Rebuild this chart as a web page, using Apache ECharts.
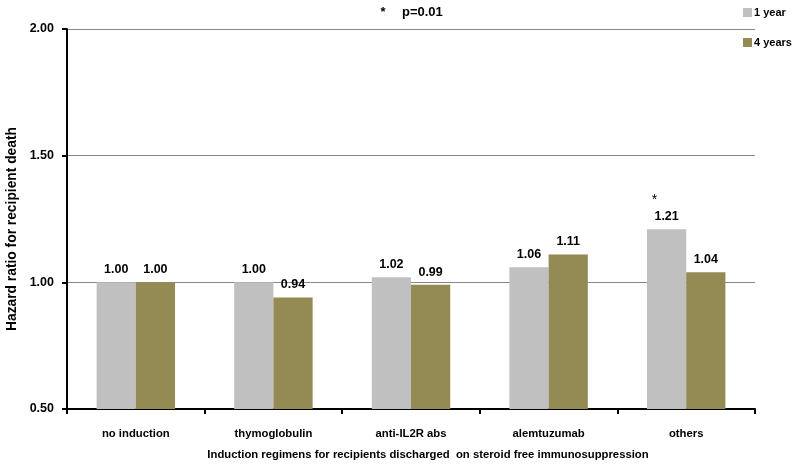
<!DOCTYPE html>
<html>
<head>
<meta charset="utf-8">
<script src="https://cdn.jsdelivr.net/npm/echarts@6/dist/echarts.min.js"></script>
<style>html,body{margin:0;padding:0;background:#fff}#c{width:794px;height:466px}</style>
</head>
<body>
<div id="c"></div>
<script>
const categories = ['no induction', 'thymoglobulin', 'anti-IL2R abs', 'alemtuzumab', 'others'];
const oneYear = [1.00, 1.00, 1.02, 1.06, 1.21];
const fourYears = [1.00, 0.94, 0.99, 1.11, 1.04];
const significance1y = ['', '', '', '', '*'];
const yTicks = [0.5, 1.0, 1.5, 2.0];
const xTitle = 'Induction regimens for recipients discharged  on steroid free immunosuppression';
const yTitle = 'Hazard ratio for recipient death';

const FONT = 'Liberation Sans';
const chart = echarts.init(document.getElementById('c'), null, {renderer: 'canvas'});

function labelCfg(sig) {
  return {
    show: true,
    position: 'top',
    distance: 6,
    fontFamily: FONT,
    fontWeight: 'bold',
    fontSize: 12.5,
    color: '#000',
    formatter: function (p) {
      const s = sig ? sig[p.dataIndex] : '';
      const v = p.value.toFixed(2);
      return s ? '{star|' + s + '}\n' + v : v;
    },
    rich: { star: { fontSize: 14, fontWeight: 'normal', fontFamily: FONT, color: '#000', lineHeight: 20, padding: [0, 24, 0, 0] } }
  };
}

chart.setOption({
  animation: false,
  backgroundColor: '#fff',
  grid: { left: 67, right: 39, top: 29, bottom: 57 },
  legend: {
    orient: 'vertical',
    left: 738,
    top: 2,
    itemGap: 19,
    itemWidth: 9,
    itemHeight: 9,
    icon: 'rect',
    textStyle: { fontFamily: FONT, fontWeight: 'bold', fontSize: 11, color: '#000', padding: [0, 0, 0, -3] },
    data: ['1 year', '4 years']
  },
  graphic: [
    { type: 'text', x: 383, y: 12, style: { text: '*', fontFamily: FONT, fontWeight: 'bold', fontSize: 13, fill: '#000', textAlign: 'center', textVerticalAlign: 'middle' } },
    { type: 'text', x: 402, y: 12, style: { text: 'p=0.01', fontFamily: FONT, fontWeight: 'bold', fontSize: 13, fill: '#000', textAlign: 'left', textVerticalAlign: 'middle' } },
    { type: 'text', x: 428, y: 455, style: { text: xTitle, fontFamily: FONT, fontWeight: 'bold', fontSize: 11.3, fill: '#000', textAlign: 'center', textVerticalAlign: 'middle' } },
    { type: 'text', x: 12, y: 229, rotation: Math.PI / 2, style: { text: yTitle, fontFamily: FONT, fontWeight: 'bold', fontSize: 13.8, fill: '#000', textAlign: 'center', textVerticalAlign: 'middle' } }
  ],
  xAxis: {
    type: 'category',
    data: categories,
    axisLine: { lineStyle: { color: '#000', width: 2 } },
    axisTick: { show: true, length: 5, lineStyle: { color: '#000', width: 2 } },
    axisLabel: { margin: 19, fontFamily: FONT, fontWeight: 'bold', fontSize: 11.3, color: '#000' }
  },
  yAxis: {
    type: 'value',
    min: yTicks[0],
    max: yTicks[yTicks.length - 1],
    interval: 0.5,
    axisLine: { show: true, lineStyle: { color: '#000', width: 2 } },
    axisTick: { show: true, length: 5, lineStyle: { color: '#000', width: 2 } },
    axisLabel: { margin: 13, fontFamily: FONT, fontWeight: 'bold', fontSize: 12.5, color: '#000', formatter: v => v.toFixed(2) },
    splitLine: { show: true, lineStyle: { color: '#888', width: 1 } }
  },
  series: [
    {
      name: '1 year', type: 'bar', data: oneYear,
      itemStyle: { color: '#C0C0C0' },
      barGap: '0%', barCategoryGap: '43%',
      label: labelCfg(significance1y)
    },
    {
      name: '4 years', type: 'bar', data: fourYears,
      itemStyle: { color: '#948A54' },
      barGap: '0%', barCategoryGap: '43%',
      label: labelCfg(null)
    }
  ]
});
</script>
</body>
</html>
